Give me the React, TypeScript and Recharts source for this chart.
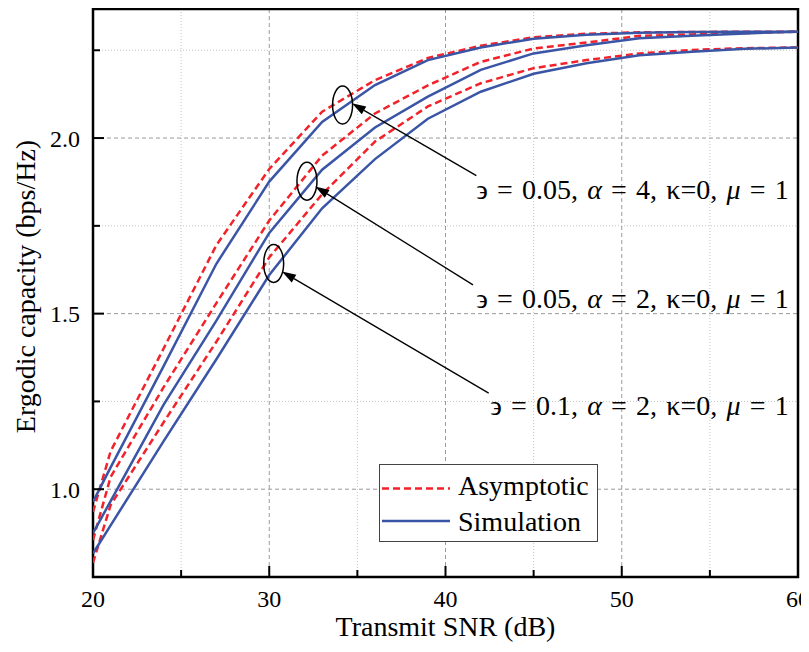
import React from 'react';
import {
  LineChart,
  Line,
  XAxis,
  YAxis,
  CartesianGrid,
  ReferenceArea,
  ReferenceLine,
  ReferenceDot,
  Legend,
  Label,
} from 'recharts';

// ---------------- data ----------------
const snr = [20, 21, 24, 27, 30, 33, 36, 39, 42, 45, 48, 51, 54, 57, 60];

// eps = 0.05, alpha = 4
const asym1 = [0.935, 1.108, 1.4, 1.695, 1.912, 2.075, 2.165, 2.228, 2.263, 2.287, 2.297, 2.301, 2.302, 2.303, 2.303];
const sim1 = [0.964, 1.062, 1.35, 1.642, 1.876, 2.046, 2.151, 2.222, 2.258, 2.283, 2.294, 2.3, 2.302, 2.303, 2.303];
// eps = 0.05, alpha = 2
const asym2 = [0.855, 1.035, 1.29, 1.53, 1.765, 1.95, 2.07, 2.15, 2.217, 2.255, 2.272, 2.291, 2.295, 2.299, 2.303];
const sim2 = [0.875, 0.966, 1.24, 1.48, 1.73, 1.91, 2.03, 2.118, 2.194, 2.241, 2.264, 2.284, 2.291, 2.298, 2.303];
// eps = 0.1, alpha = 2
const asym3 = [0.79, 0.955, 1.19, 1.42, 1.66, 1.84, 1.99, 2.09, 2.156, 2.199, 2.222, 2.241, 2.251, 2.256, 2.258];
const sim3 = [0.817, 0.897, 1.136, 1.37, 1.61, 1.8, 1.94, 2.055, 2.132, 2.183, 2.213, 2.236, 2.246, 2.254, 2.258];

const xMajorTicks = [20, 30, 40, 50, 60];
const xMinorTicks = [25, 35, 45, 55];
const yMajorTicks = [1.0, 1.5, 2.0];
const yMinorTicks = [1.25, 1.75, 2.25];
const xDomain: [number, number] = [20, 60];
const yDomain: [number, number] = [0.75, 2.3675];

const seriesNames = ['Asymptotic', 'Simulation'];
const curveLabels = [
  { eps: '0.05', alpha: '4' },
  { eps: '0.05', alpha: '2' },
  { eps: '0.1', alpha: '2' },
];

// ---------------- layout / style ----------------
const RED = '#f2222a';
const BLUE = '#3a55a5';
const FONT = '"Liberation Serif", "Times New Roman", Times, serif';
const DASH = '7 4';

const annotationLayout = [
  { ellipse: { x: 34.16, y: 2.094 }, tip: { x: 34.69, y: 2.099 }, tail: { x: 41.75, y: 1.893 }, text: { x: 59.47, y: 1.826 } },
  { ellipse: { x: 32.14, y: 1.877 }, tip: { x: 32.61, y: 1.862 }, tail: { x: 41.56, y: 1.582 }, text: { x: 59.47, y: 1.5155 } },
  { ellipse: { x: 30.25, y: 1.643 }, tip: { x: 30.72, y: 1.62 }, tail: { x: 42.45, y: 1.2735 }, text: { x: 59.47, y: 1.212 } },
];

const data = snr.map((s, i) => ({
  snr: s,
  asym1: asym1[i],
  sim1: sim1[i],
  asym2: asym2[i],
  sim2: sim2[i],
  asym3: asym3[i],
  sim3: sim3[i],
}));

const XTick = (props: any) => {
  const { x, y, payload } = props;
  const v = payload.value;
  const major = xMajorTicks.includes(v);
  return (
    <g>
      <line x1={x} x2={x} y1={y} y2={y - (major ? 11 : 7)} stroke="#000" strokeWidth={2} />
      {major && (
        <text x={x} y={y + 30} textAnchor="middle" fontSize={24} style={{ fontFamily: FONT }} fill="#000">
          {v}
        </text>
      )}
    </g>
  );
};

const YTick = (props: any) => {
  const { x, y, payload } = props;
  const v = payload.value;
  const major = yMajorTicks.includes(v);
  return (
    <g>
      <line x1={x} x2={x + (major ? 11 : 7)} y1={y} y2={y} stroke="#000" strokeWidth={2} />
      {major && (
        <text x={x - 13} y={y + 8.5} textAnchor="end" fontSize={24} style={{ fontFamily: FONT }} fill="#000">
          {v.toFixed(1)}
        </text>
      )}
    </g>
  );
};

const ArrowShape = (props: any) => {
  const { x1, y1, x2, y2 } = props;
  if ([x1, y1, x2, y2].some((v) => typeof v !== 'number' || isNaN(v))) return null;
  const dx = x2 - x1;
  const dy = y2 - y1;
  const len = Math.sqrt(dx * dx + dy * dy) || 1;
  const ux = dx / len;
  const uy = dy / len;
  const hl = 14;
  const hw = 4.5;
  const bx = x2 - ux * hl;
  const by = y2 - uy * hl;
  const pts = `${x2},${y2} ${bx - uy * hw},${by + ux * hw} ${bx + uy * hw},${by - ux * hw}`;
  return (
    <g>
      <line x1={x1} y1={y1} x2={bx} y2={by} stroke="#000" strokeWidth={1.3} />
      <polygon points={pts} fill="#000" />
    </g>
  );
};

const EllipseShape = (props: any) => {
  const { cx, cy } = props;
  return <ellipse cx={cx} cy={cy} rx={10} ry={19} fill="none" stroke="#000" strokeWidth={1.5} />;
};

const makeTextShape = (lbl: { eps: string; alpha: string }) => (props: any) => {
  const { cx, cy } = props;
  return (
    <text
      x={cx}
      y={cy}
      textAnchor="end"
      fontSize={28}
      fill="#000"
      style={{ fontFamily: FONT, wordSpacing: '2.2px' }}
    >
      <tspan>{`϶ = ${lbl.eps}, `}</tspan>
      <tspan fontStyle="italic">α</tspan>
      <tspan>{` = ${lbl.alpha}, κ=0, `}</tspan>
      <tspan fontStyle="italic">μ</tspan>
      <tspan>{' = 1'}</tspan>
    </text>
  );
};

const legendItems = [
  { name: seriesNames[0], color: RED, dash: DASH },
  { name: seriesNames[1], color: BLUE, dash: undefined as string | undefined },
];

const renderLegend = () => (
  <svg width={219} height={78} style={{ display: 'block', overflow: 'visible' }}>
    <rect x={0.5} y={0.5} width={218} height={77} fill="#fff" stroke="#444" strokeWidth={1} />
    {legendItems.map((it, i) => (
      <g key={it.name}>
        <line
          x1={3}
          x2={71}
          y1={24.5 + i * 32.5}
          y2={24.5 + i * 32.5}
          stroke={it.color}
          strokeWidth={2.5}
          strokeDasharray={it.dash}
        />
        <text x={79} y={31 + i * 35.7} fontSize={28} style={{ fontFamily: FONT }} fill="#000">
          {it.name}
        </text>
      </g>
    ))}
  </svg>
);

export default function App() {
  return (
    <div style={{ width: 801, height: 636, fontFamily: FONT, background: '#fff', overflow: 'visible' }}>
      <LineChart
        width={801}
        height={636}
        data={data}
        margin={{ top: 1, right: 11, bottom: 0, left: 0 }}
        style={{ overflow: 'visible' }}
      >
        <CartesianGrid
          horizontalValues={yMinorTicks}
          verticalValues={xMinorTicks}
          stroke="#c4c4c4"
          strokeDasharray="1 2"
          strokeWidth={1}
        />
        <CartesianGrid
          horizontalValues={yMajorTicks}
          verticalValues={[30, 40, 50]}
          stroke="#9a9a9a"
          strokeDasharray="4 3"
          strokeWidth={1}
        />
        <XAxis
          dataKey="snr"
          type="number"
          domain={xDomain}
          ticks={[...xMajorTicks, ...xMinorTicks].sort((a, b) => a - b)}
          interval={0}
          tickSize={0}
          tickMargin={0}
          tickLine={false}
          axisLine={false}
          tick={<XTick />}
          height={67}
          allowDataOverflow
        >
          <Label
            content={(p: any) => {
              const vb = p.viewBox || { x: 85, y: 569, width: 705 };
              return (
                <text
                  x={vb.x + vb.width / 2}
                  y={vb.y + 59}
                  textAnchor="middle"
                  fontSize={28}
                  style={{ fontFamily: FONT }}
                  fill="#000"
                >
                  Transmit SNR (dB)
                </text>
              );
            }}
          />
        </XAxis>
        <YAxis
          type="number"
          domain={yDomain}
          ticks={[...yMajorTicks, ...yMinorTicks].sort((a, b) => a - b)}
          interval={0}
          tickSize={0}
          tickMargin={0}
          tickLine={false}
          axisLine={false}
          tick={<YTick />}
          width={85}
          allowDataOverflow
        >
          <Label
            content={(p: any) => {
              const vb = p.viewBox || { x: 0, y: 1, width: 85, height: 568 };
              const cx = 27;
              const cy = vb.y + vb.height / 2 - 6.5;
              return (
                <text
                  x={cx}
                  y={cy}
                  transform={`rotate(-90, ${cx}, ${cy})`}
                  textAnchor="middle"
                  fontSize={28}
                  style={{ fontFamily: FONT }}
                  fill="#000"
                >
                  Ergodic capacity (bps/Hz)
                </text>
              );
            }}
          />
        </YAxis>

        <Line dataKey="asym1" name={seriesNames[0]} stroke={RED} strokeWidth={2.5} strokeDasharray={DASH} dot={false} isAnimationActive={false} legendType="line" />
        <Line dataKey="asym2" name={seriesNames[0]} stroke={RED} strokeWidth={2.5} strokeDasharray={DASH} dot={false} isAnimationActive={false} legendType="none" />
        <Line dataKey="asym3" name={seriesNames[0]} stroke={RED} strokeWidth={2.5} strokeDasharray={DASH} dot={false} isAnimationActive={false} legendType="none" />
        <Line dataKey="sim1" name={seriesNames[1]} stroke={BLUE} strokeWidth={2.5} dot={false} isAnimationActive={false} legendType="line" />
        <Line dataKey="sim2" name={seriesNames[1]} stroke={BLUE} strokeWidth={2.5} dot={false} isAnimationActive={false} legendType="none" />
        <Line dataKey="sim3" name={seriesNames[1]} stroke={BLUE} strokeWidth={2.5} dot={false} isAnimationActive={false} legendType="none" />

        {annotationLayout.map((a, i) => (
          <ReferenceDot key={`e${i}`} x={a.ellipse.x} y={a.ellipse.y} r={10} shape={EllipseShape} />
        ))}
        {annotationLayout.map((a, i) => (
          <ReferenceLine
            key={`a${i}`}
            segment={[
              { x: a.tail.x, y: a.tail.y },
              { x: a.tip.x, y: a.tip.y },
            ]}
            stroke="#000"
            shape={ArrowShape}
          />
        ))}
        {annotationLayout.map((a, i) => (
          <ReferenceDot key={`t${i}`} x={a.text.x} y={a.text.y} r={1} shape={makeTextShape(curveLabels[i])} />
        ))}

        <ReferenceArea x1={xDomain[0]} x2={xDomain[1]} y1={yDomain[0]} y2={yDomain[1]} fill="none" fillOpacity={0} stroke="#000" strokeWidth={2.5} />

        <Legend
          layout="vertical"
          align="center"
          verticalAlign="middle"
          content={renderLegend}
          wrapperStyle={{ left: 371, top: 456, width: 219, height: 78 }}
        />
      </LineChart>
    </div>
  );
}
